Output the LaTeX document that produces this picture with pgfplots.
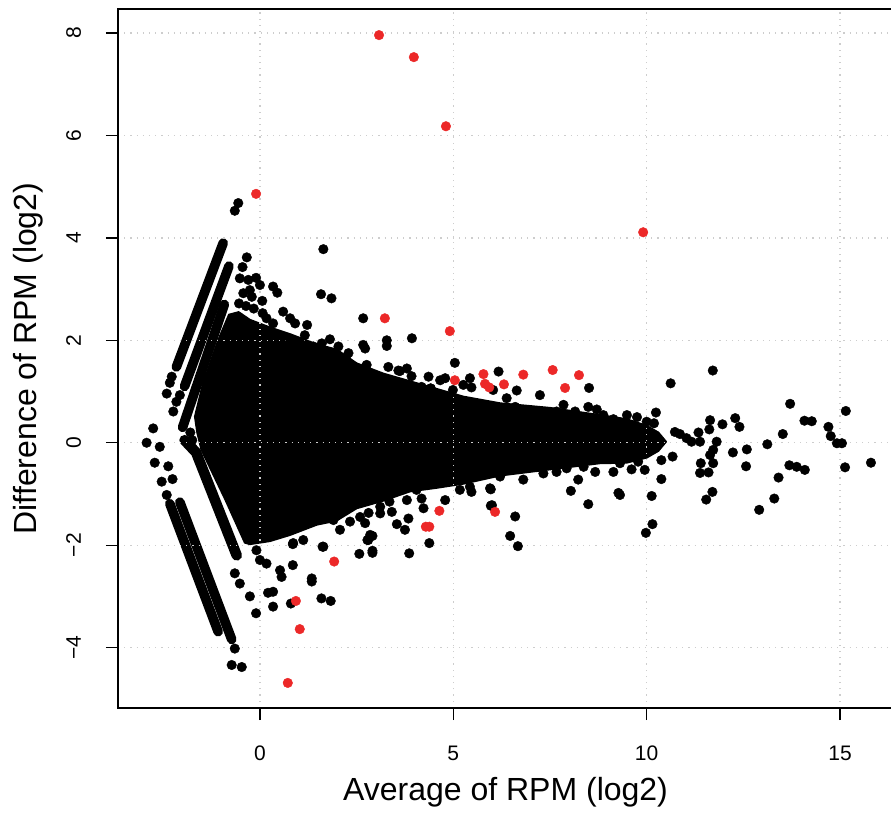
\documentclass[border=0pt]{standalone}
\usepackage{fontspec}
\setmainfont{Liberation Sans}
\usepackage{pgfplots}
\pgfplotsset{compat=1.18}
\definecolor{ptred}{RGB}{236,40,40}
\definecolor{gridgray}{RGB}{205,205,205}

\begin{document}
\begin{tikzpicture}
\begin{axis}[
  width=775pt, height=699pt, scale only axis,
  xmin=-3.67, xmax=16.37, ymin=-5.18, ymax=8.47,
  axis on top,
  axis line style={black, line width=1.3pt},
  xtick={0,5,10,15}, ytick={-4,-2,0,2,4,6,8},
  xticklabels={0,5,10,15}, yticklabels={−4,−2,0,2,4,6,8},
  xtick pos=bottom, ytick pos=left,
  tick align=outside, major tick length=12pt,
  tick style={black, line width=1.3pt},
  grid=major,
  major grid style={gridgray, line width=1.2pt, dash pattern=on 1.2pt off 5pt},
  ticklabel style={font=\fontsize{21}{25}\selectfont},
  xticklabel style={anchor=base}, xticklabel shift=40pt,
  yticklabel style={rotate=90, anchor=base}, yticklabel shift=25pt,
  label style={font=\fontsize{32}{37}\selectfont},
  xlabel={Average of RPM (log2)},
  ylabel={Difference of RPM (log2)},
  xlabel style={at={([yshift=-92pt]axis description cs:0.5,0)}, anchor=base},
  ylabel style={at={([xshift=-81pt]axis description cs:0,0.5)}, anchor=base},
]

% dense core of the cloud
\addplot[fill=black, draw=black, line width=2pt, line join=round] coordinates {
(-1.08,2.0) (-0.80,2.5) (-0.55,2.55) (-0.26,2.4) (0.26,2.25) (0.78,2.12)
(1.47,1.92) (1.98,1.82) (2.5,1.55) (3.19,1.35) (3.88,1.2) (4.57,1.05)
(5.26,0.9) (6.21,0.77) (7.5,0.68) (8.79,0.54) (9.48,0.46) (10.0,0.33)
(10.3,0.2) (10.5,0.02)
(10.3,-0.16) (10.0,-0.29) (9.48,-0.39) (8.79,-0.40) (7.5,-0.52)
(6.21,-0.64) (5.26,-0.80) (4.57,-0.88) (3.88,-0.95) (3.19,-1.13)
(2.5,-1.28) (1.98,-1.52) (1.47,-1.6) (0.78,-1.8) (0.26,-1.92)
(-0.26,-1.98) (-0.39,-1.95)
(-0.9,-1.1) (-1.51,-0.14) (-1.62,0.2) (-1.68,0.51) (-1.47,1.16) (-1.08,2.0)
};

% count streaks on the left
\addplot[black, line width=9.6pt, line cap=round] coordinates {(-2.16,1.48) (-0.95,3.9)};
\addplot[black, line width=9.6pt, line cap=round] coordinates {(-1.95,1.1) (-0.80,3.45)};
\addplot[black, line width=9.6pt, line cap=round] coordinates {(-2.0,0.3) (-0.92,2.7)};
\addplot[black, line width=9.6pt, line cap=round] coordinates {(-2.33,-1.19) (-1.08,-3.69)};
\addplot[black, line width=9.6pt, line cap=round] coordinates {(-2.07,-1.16) (-0.73,-3.84)};
\addplot[black, line width=10.5pt, line cap=round] coordinates {(-1.95,0.05) (-1.65,-0.19) (-0.60,-2.2)};

% single points
\addplot[only marks, mark=*, mark size=4.8pt, color=black] table {
-1.80 0.20
-1.75 0.05
-2.93 0.0
-2.76 0.28
-2.28 1.29
-2.33 1.17
-2.41 0.96
-2.07 0.93
-2.16 0.80
-2.24 0.61
-2.59 -0.08
-2.72 -0.39
-2.37 -0.46
-2.54 -0.76
-2.26 -0.71
-2.41 -1.02
-0.65 -4.02
-0.73 -4.34
-0.47 -4.38
-0.65 -2.55
-0.52 -2.75
-0.26 -3.0
-0.10 -3.33
-0.09 -2.10
0.0 -2.29
-0.56 4.68
-0.65 4.53
1.64 3.78
-0.34 3.62
-0.45 3.43
-0.52 3.21
-0.30 3.18
-0.10 3.22
0.00 3.08
-0.43 2.92
-0.26 2.98
-0.21 2.85
0.06 2.77
-0.54 2.72
-0.36 2.67
-0.16 2.62
0.34 3.05
0.45 2.93
1.58 2.90
1.85 2.82
2.67 2.43
0.07 2.53
0.17 2.43
0.34 2.33
0.60 2.56
0.78 2.43
0.91 2.33
1.22 2.30
3.28 2.00
3.28 1.89
3.93 2.04
2.67 1.91
2.72 1.84
0.79 1.99
1.03 1.97
1.16 2.10
1.38 1.88
1.60 1.94
1.81 2.02
2.03 1.88
1.85 1.75
2.29 1.75
2.24 1.62
2.73 1.48
3.32 1.48
3.62 1.40
3.80 1.45
4.36 1.29
4.66 1.22
4.79 1.26
4.18 1.09
4.42 1.06
5.04 1.56
6.17 1.39
5.43 1.26
5.26 1.13
5.47 1.08
2.76 1.52
3.58 1.41
3.92 1.30
4.99 1.03
4.41 1.06
6.03 1.03
6.38 0.87
6.60 0.70
6.64 1.02
7.24 0.93
7.67 0.61
7.85 0.74
8.15 0.61
8.49 0.70
8.71 0.65
8.88 0.54
8.51 1.07
9.14 0.46
9.49 0.54
9.75 0.50
10.0 0.41
10.24 0.59
10.19 0.38
10.62 1.16
11.71 1.41
10.73 0.21
10.86 0.17
11.03 0.09
11.16 0.02
11.38 0.02
11.34 0.20
11.64 0.44
11.62 0.26
11.96 0.36
12.29 0.48
12.40 0.31
11.81 0.02
11.72 -0.14
11.64 -0.24
11.72 -0.40
11.40 -0.40
11.38 -0.59
11.60 -0.58
12.23 -0.19
12.59 -0.13
12.57 -0.46
13.12 -0.03
13.52 0.17
13.71 0.76
14.08 0.43
14.27 0.42
14.70 0.31
14.76 0.13
14.92 -0.01
15.05 -0.01
15.15 0.62
15.13 -0.48
15.80 -0.39
13.69 -0.44
13.88 -0.47
14.09 -0.53
13.41 -0.68
13.30 -1.09
12.91 -1.31
11.54 -1.11
11.70 -0.96
10.38 -0.34
10.38 -0.71
10.67 -0.27
10.13 -1.04
10.15 -1.59
9.98 -1.76
9.27 -0.98
9.31 -1.02
8.49 -1.20
8.04 -0.94
8.23 -0.72
9.14 -0.57
9.61 -0.52
9.95 -0.53
9.78 -0.37
9.31 -0.40
8.67 -0.57
8.37 -0.47
6.60 -1.44
6.47 -1.82
6.67 -2.02
5.97 -0.91
5.97 -1.23
5.95 -0.89
6.00 -1.22
5.17 -0.92
5.43 -0.86
4.79 -1.12
4.23 -1.28
4.18 -1.09
4.05 -0.92
3.80 -1.12
3.84 -1.48
3.75 -1.70
3.54 -1.59
4.38 -1.96
3.86 -2.16
3.35 -1.15
3.41 -1.35
3.11 -1.25
3.11 -1.38
2.81 -1.37
2.59 -1.45
2.72 -1.57
2.85 -1.80
2.78 -1.90
2.91 -2.11
2.57 -2.17
2.91 -2.15
2.80 -1.90
2.91 -1.82
1.64 -2.03
0.86 -1.96
1.12 -1.90
0.85 -2.39
0.52 -2.49
0.56 -2.62
1.34 -2.65
1.34 -2.71
2.07 -1.70
2.33 -1.54
1.90 -1.51
0.85 -1.98
1.62 -2.03
0.21 -2.93
0.34 -2.91
0.34 -3.20
0.80 -3.14
1.59 -3.04
1.83 -3.09
0.17 -2.36
7.33 -0.60
7.67 -0.57
7.93 -0.50
6.81 -0.72
6.21 -0.66
5.47 -0.96
};

% highlighted points
\addplot[only marks, mark=*, mark size=4.8pt, color=ptred] table {
3.08 7.96
3.98 7.53
4.81 6.18
-0.10 4.86
9.91 4.11
3.23 2.43
4.91 2.18
5.04 1.22
5.78 1.34
5.82 1.15
5.93 1.08
6.31 1.14
6.81 1.33
7.57 1.42
8.25 1.32
7.89 1.07
4.64 -1.33
4.29 -1.64
4.38 -1.64
6.08 -1.35
1.92 -2.32
0.93 -3.09
1.03 -3.64
0.72 -4.69
};
\end{axis}
\pgfresetboundingbox
\path ([shift={(-118pt,-108pt)}]current axis.south west) rectangle ([shift={(-2pt,9pt)}]current axis.north east);
\end{tikzpicture}
\end{document}
